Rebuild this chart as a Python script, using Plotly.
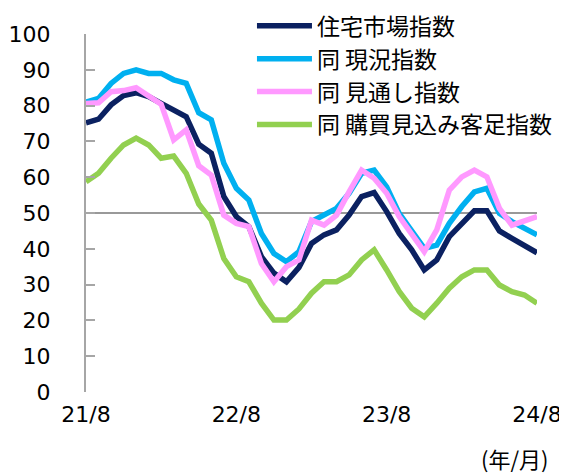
import plotly.graph_objects as go

months = [f"{21 + (7 + i) // 12}/{(7 + i) % 12 + 1}" for i in range(37)]
tick_labels = ["21/8", "22/8", "23/8", "24/8"]

housing = [75.2, 76.2, 80.2, 82.8, 83.6, 82.5, 80.6, 78.8, 76.9, 69.2, 66.7, 54.6, 49.0, 46.2,
           37.8, 33.2, 30.8, 34.8, 41.5, 43.9, 45.3, 49.4, 54.6, 55.7, 50.4, 44.3, 39.7, 34.1,
           36.9, 43.4, 47.1, 50.6, 50.6, 45.0, 42.9, 40.8, 38.9]
current = [81.0, 82.0, 86.2, 89.0, 90.0, 89.0, 89.0, 87.2, 86.2, 78.0, 76.0, 63.9, 56.9, 53.6,
           44.3, 38.7, 36.4, 39.2, 47.6, 49.4, 51.3, 55.5, 61.1, 62.0, 57.3, 49.9, 44.8, 40.1,
           41.0, 47.1, 51.8, 55.9, 56.9, 49.9, 47.6, 45.7, 43.9]
outlook = [80.6, 80.8, 83.9, 84.2, 85.0, 82.5, 80.4, 70.4, 73.2, 63.2, 60.6, 49.4, 47.1, 46.2,
           35.9, 30.8, 35.0, 36.9, 48.0, 46.6, 49.4, 55.9, 62.0, 59.7, 55.5, 49.0, 43.9, 39.2,
           45.3, 56.4, 60.1, 62.0, 60.1, 51.3, 46.6, 47.6, 49.0]
visitors = [58.7, 61.1, 65.3, 69.0, 70.9, 69.0, 65.3, 65.9, 61.1, 52.5, 48.0, 37.3, 32.2, 30.8,
            24.8, 20.1, 20.1, 23.2, 27.6, 30.8, 30.8, 32.7, 36.9, 39.7, 34.1, 28.1, 23.4, 21.0,
            24.8, 29.0, 32.2, 34.1, 34.1, 29.9, 28.0, 27.1, 24.8]

series = [
    ("住宅市場指数", housing, "#0b2161"),
    ("同 現況指数", current, "#00b0f0"),
    ("同 見通し指数", outlook, "#ff99ff"),
    ("同 購買見込み客足指数", visitors, "#92d050"),
]
baseline = 50

x_idx = list(range(len(months)))
fig = go.Figure()
for name, vals, col in series:
    fig.add_trace(go.Scatter(x=x_idx, y=vals, mode="lines", name=name,
                             line=dict(color=col, width=5.5)))

fig.add_shape(type="line", xref="x", yref="y", x0=0, x1=len(months) - 1,
              y0=baseline, y1=baseline, line=dict(color="#999999", width=2), layer="below")

fig.update_layout(
    width=559, height=466,
    margin=dict(l=78, r=30, t=26, b=82, autoexpand=False),
    paper_bgcolor="white", plot_bgcolor="white",
    font=dict(family="DejaVu Sans, Noto Sans CJK JP", size=22, color="#000000"),
    showlegend=True,
    legend=dict(x=0.368, y=1.083, xanchor="left", yanchor="top",
                bgcolor="rgba(0,0,0,0)", itemwidth=55,
                font=dict(family="Noto Sans CJK JP", size=23),
                tracegroupgap=0),
    xaxis=dict(range=[0, len(months) - 1], tickmode="array",
               tickvals=[months.index(t) for t in tick_labels], ticktext=tick_labels,
               showgrid=False, zeroline=False, showline=False, ticks="",
               ticklabelstandoff=7),
    yaxis=dict(range=[0, 100], dtick=10, showgrid=False, zeroline=False,
               showline=True, linecolor="#a6a6a6", linewidth=2,
               ticks="inside", ticklen=9, tickcolor="#a6a6a6", tickwidth=2,
               ticklabelstandoff=29),
)
fig.add_annotation(text="(年/月)", xref="paper", yref="paper", x=0.951, y=-0.184,
                   xanchor="center", yanchor="middle", showarrow=False,
                   font=dict(family="Noto Sans CJK JP", size=22))

fig.write_html("out.html")
